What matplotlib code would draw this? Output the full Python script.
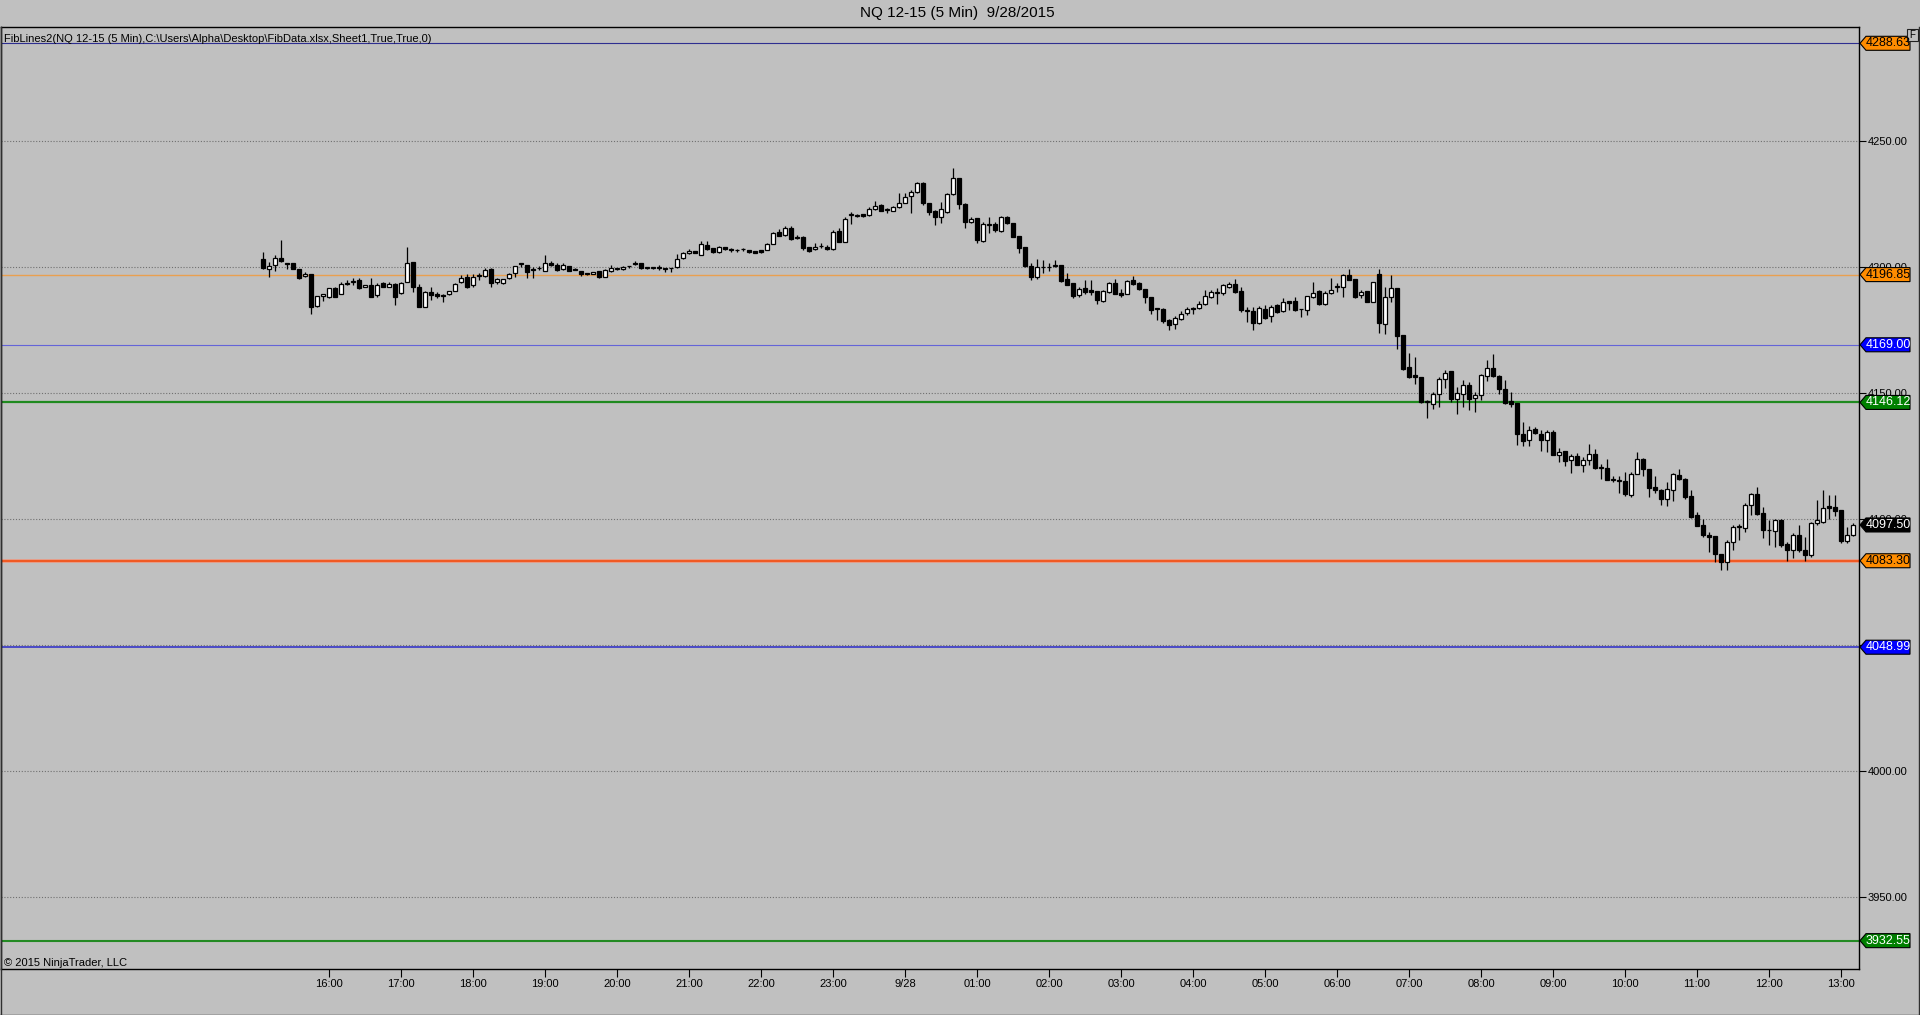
import numpy as np
import pandas as pd
import matplotlib
matplotlib.use("Agg")
import matplotlib.pyplot as plt
from matplotlib import transforms
from matplotlib.patches import Polygon, Rectangle
from matplotlib.lines import Line2D

plt.rcParams['font.family'] = ['Liberation Sans', 'DejaVu Sans']

# ---------------- data ----------------
title = "NQ 12-15 (5 Min)  9/28/2015"
indicator_label = r"FibLines2(NQ 12-15 (5 Min),C:\Users\Alpha\Desktop\FibData.xlsx,Sheet1,True,True,0)"
copyright_label = "\u00a9 2015 NinjaTrader, LLC"
start_time = "2015-09-27 15:05"   # first 5-minute bar

opens = [
 4202.9,4198.9,4200.7,4203.6,4201.6,4201.3,4198.9,4196.2,4197.1,4184.3,4188.4,4188.1,4191.4,4189.2,4193.6,4193.8,
 4194.7,4191.8,4192.7,4188.8,4193.4,4192.1,4193.0,4189.4,4194.0,4201.7,4192.1,4184.1,4189.8,4189.0,4188.8,4189.0,
 4190.5,4193.8,4196.0,4192.7,4196.4,4196.3,4199.0,4194.0,4193.6,4195.4,4197.6,4201.3,4200.7,4199.0,4199.3,4198.4,
 4201.3,4200.7,4198.9,4200.4,4198.9,4198.3,4197.2,4197.1,4198.3,4196.0,4198.3,4199.0,4199.0,4200.1,4201.3,4201.3,
 4199.6,4199.4,4200.0,4199.0,4199.3,4199.7,4203.3,4205.3,4206.3,4204.8,4208.6,4207.3,4206.0,4207.7,4206.6,4206.5,
 4206.9,4206.6,4206.3,4206.6,4206.6,4209.0,4213.9,4212.4,4215.5,4211.9,4211.9,4207.9,4206.9,4208.0,4207.9,4207.0,
 4214.3,4209.9,4220.5,4220.2,4220.8,4220.5,4222.8,4224.5,4222.5,4222.2,4223.5,4225.4,4228.0,4229.5,4233.1,4225.4,
 4222.1,4219.6,4221.8,4228.7,4235.0,4224.7,4217.6,4219.2,4210.2,4216.5,4216.9,4214.3,4219.6,4217.2,4212.2,4207.9,
 4200.3,4196.0,4199.7,4199.7,4200.3,4200.5,4195.0,4193.5,4188.6,4191.7,4190.9,4190.2,4186.4,4190.0,4193.7,4189.6,
 4189.3,4194.6,4193.5,4191.3,4188.0,4183.3,4183.3,4178.7,4177.4,4179.4,4181.6,4183.7,4183.6,4185.3,4188.0,4189.6,
 4189.6,4191.9,4193.0,4190.2,4182.4,4182.4,4177.6,4183.3,4180.3,4184.7,4182.4,4186.2,4186.2,4183.0,4182.9,4188.0,
 4190.2,4185.0,4189.7,4191.9,4191.9,4196.6,4195.2,4188.9,4190.2,4186.0,4197.2,4177.4,4188.0,4191.7,4172.8,4160.2,
 4157.1,4156.2,4146.3,4145.6,4149.3,4155.6,4158.5,4147.6,4149.6,4152.9,4148.0,4149.2,4156.5,4159.9,4156.5,4151.6,
 4146.6,4145.9,4133.5,4131.3,4135.4,4133.7,4131.3,4134.4,4125.1,4126.7,4123.4,4124.7,4121.4,4123.4,4125.5,4120.2,
 4120.1,4115.5,4115.0,4115.0,4109.5,4117.9,4123.5,4119.8,4112.6,4111.2,4107.7,4111.5,4117.2,4115.9,4108.9,4101.3,
 4097.4,4093.6,4093.0,4085.8,4082.8,4090.7,4096.7,4096.4,4105.3,4109.9,4102.4,4095.4,4095.1,4099.6,4090.1,4087.4,
 4093.6,4087.7,4085.7,4098.4,4098.7,4104.9,4104.6,4103.3,4091.2,4093.4]
highs = [
 4206.0,4202.0,4204.6,4210.6,4201.6,4201.3,4198.9,4198.0,4197.1,4188.4,4189.2,4191.6,4192.0,4194.0,4194.7,4195.4,
 4195.4,4192.7,4195.4,4193.4,4193.8,4194.0,4193.4,4194.0,4207.9,4201.7,4193.0,4190.5,4192.0,4190.0,4189.0,4190.3,
 4193.4,4196.7,4197.0,4197.0,4197.4,4199.3,4199.3,4195.6,4195.2,4197.6,4200.4,4201.5,4200.7,4200.0,4200.4,4204.6,
 4202.2,4201.3,4201.3,4200.4,4199.3,4198.3,4197.6,4198.0,4198.3,4199.0,4200.7,4199.3,4200.3,4200.4,4202.2,4201.3,
 4200.0,4199.8,4200.7,4199.3,4199.5,4204.9,4206.0,4206.9,4206.3,4210.2,4210.2,4207.6,4208.0,4207.7,4207.3,4207.2,
 4207.6,4206.6,4206.3,4206.6,4209.2,4213.9,4214.9,4216.1,4216.1,4212.6,4212.2,4207.9,4209.3,4209.5,4208.6,4214.6,
 4215.5,4219.6,4221.6,4221.0,4221.0,4223.8,4226.2,4224.9,4223.1,4224.1,4229.1,4229.4,4230.4,4233.7,4233.7,4225.4,
 4222.5,4225.8,4229.1,4239.0,4235.0,4225.4,4219.8,4219.2,4217.9,4219.6,4217.9,4220.2,4220.1,4217.2,4212.2,4207.9,
 4201.3,4202.9,4202.6,4201.3,4202.5,4200.5,4197.6,4193.5,4191.9,4194.8,4194.8,4190.2,4190.6,4194.1,4195.2,4191.3,
 4194.8,4196.2,4193.9,4191.3,4188.0,4183.3,4183.4,4179.4,4180.3,4182.4,4184.1,4184.0,4186.4,4190.9,4190.9,4191.5,
 4193.3,4193.9,4195.2,4191.9,4184.0,4184.0,4184.3,4184.7,4184.7,4185.3,4187.7,4186.2,4188.0,4183.3,4188.2,4193.9,
 4190.6,4190.3,4195.6,4193.5,4197.2,4199.2,4195.2,4190.6,4190.2,4193.9,4199.2,4192.0,4196.6,4191.7,4172.8,4165.9,
 4164.1,4156.2,4147.0,4150.3,4156.2,4158.9,4158.5,4152.2,4154.9,4154.2,4150.3,4157.3,4163.1,4165.2,4156.9,4154.9,
 4150.3,4145.9,4138.4,4136.6,4136.4,4135.0,4135.0,4135.0,4128.2,4126.7,4125.8,4126.0,4124.5,4129.8,4127.8,4121.8,
 4123.5,4116.8,4116.8,4118.5,4118.5,4126.5,4124.2,4119.8,4116.8,4111.9,4114.6,4118.1,4119.8,4116.0,4111.2,4102.6,
 4100.0,4094.7,4093.0,4086.1,4091.4,4097.4,4098.0,4106.2,4110.2,4112.6,4104.6,4099.3,4100.0,4100.0,4090.7,4094.3,
 4097.4,4092.7,4098.7,4107.5,4111.2,4109.3,4109.3,4103.3,4096.7,4098.3]
lows = [
 4199.0,4196.0,4198.4,4202.0,4199.0,4198.9,4195.2,4196.0,4181.2,4184.0,4186.4,4187.6,4188.0,4189.0,4192.7,4192.7,
 4191.0,4191.8,4187.8,4188.0,4192.0,4192.0,4184.8,4189.0,4193.8,4190.1,4184.0,4184.0,4186.8,4187.4,4186.0,4188.8,
 4190.3,4193.6,4191.6,4192.0,4194.7,4196.0,4191.8,4193.0,4193.0,4195.0,4196.0,4200.0,4195.6,4195.6,4198.7,4198.4,
 4200.4,4198.4,4198.7,4198.4,4198.7,4196.3,4196.5,4197.0,4195.4,4196.0,4198.0,4198.5,4198.8,4199.3,4200.7,4199.0,
 4199.0,4199.0,4198.7,4197.8,4198.0,4199.6,4203.0,4205.0,4205.3,4204.6,4206.6,4205.6,4205.6,4206.6,4206.0,4206.0,
 4206.3,4205.6,4205.3,4205.3,4206.6,4209.0,4212.0,4212.2,4210.6,4211.0,4206.6,4206.0,4206.6,4207.6,4206.6,4206.6,
 4209.9,4209.9,4216.9,4219.6,4219.8,4220.2,4222.5,4221.9,4221.4,4221.9,4223.3,4225.1,4221.4,4229.1,4224.5,4220.5,
 4216.5,4217.2,4221.4,4228.4,4222.8,4215.2,4217.2,4209.5,4209.9,4213.2,4213.9,4213.9,4216.9,4211.9,4205.3,4200.0,
 4194.7,4195.1,4197.4,4198.4,4199.9,4193.9,4192.6,4187.7,4188.0,4189.0,4188.6,4185.3,4186.0,4189.6,4189.0,4188.0,
 4189.0,4192.6,4190.9,4185.6,4181.1,4179.0,4177.6,4175.0,4175.4,4178.7,4181.0,4181.4,4183.3,4184.9,4187.7,4185.3,
 4188.6,4191.7,4189.7,4182.0,4178.0,4174.7,4177.4,4179.4,4178.0,4181.6,4182.0,4182.7,4182.4,4180.0,4181.0,4187.7,
 4184.7,4184.7,4189.3,4190.0,4188.0,4194.6,4187.6,4187.7,4186.0,4186.0,4173.7,4173.1,4186.0,4167.5,4158.9,4156.0,
 4153.3,4145.9,4140.0,4143.6,4144.4,4152.0,4146.3,4141.4,4144.3,4143.0,4142.3,4147.0,4154.6,4156.2,4149.6,4145.6,
 4144.3,4129.1,4128.8,4128.7,4133.7,4126.9,4126.5,4125.1,4122.5,4120.8,4118.1,4121.2,4118.5,4121.2,4119.8,4115.9,
 4115.2,4114.6,4110.0,4109.0,4108.6,4117.6,4116.8,4108.6,4110.2,4105.3,4104.9,4107.0,4115.5,4107.9,4100.4,4097.0,
 4092.7,4086.8,4082.8,4079.5,4079.5,4087.7,4091.4,4094.7,4101.3,4101.3,4092.5,4089.4,4088.8,4088.8,4083.2,4084.5,
 4086.8,4083.2,4084.8,4097.4,4098.3,4100.0,4100.9,4090.3,4090.3,4093.0]
closes = [
 4199.3,4200.4,4203.6,4202.2,4201.2,4198.9,4195.6,4197.1,4184.1,4188.4,4189.2,4191.4,4188.1,4193.0,4193.2,4194.5,
 4191.7,4192.7,4188.1,4192.7,4192.1,4193.0,4188.1,4193.4,4201.3,4192.1,4184.1,4189.8,4188.8,4188.5,4188.4,4190.3,
 4193.0,4195.4,4192.1,4196.0,4196.4,4198.7,4193.6,4195.0,4195.0,4197.0,4200.4,4200.9,4198.0,4198.7,4199.3,4201.3,
 4200.7,4198.7,4200.7,4198.4,4198.7,4197.0,4197.0,4198.0,4196.0,4198.7,4199.3,4199.0,4200.0,4200.1,4200.9,4199.3,
 4199.6,4199.4,4199.3,4199.0,4199.3,4203.0,4205.3,4206.3,4205.3,4209.0,4207.0,4206.0,4207.7,4207.2,4206.6,4206.6,
 4206.9,4205.7,4205.3,4205.8,4209.0,4213.5,4212.2,4215.2,4211.0,4211.5,4207.3,4206.3,4207.9,4208.0,4207.0,4213.9,
 4209.9,4218.9,4220.5,4220.2,4220.1,4222.8,4224.1,4222.1,4222.5,4223.5,4225.4,4227.5,4229.5,4233.1,4225.4,4221.8,
 4219.6,4222.8,4228.7,4235.0,4224.7,4217.9,4218.8,4210.6,4216.9,4216.5,4214.5,4219.6,4217.2,4211.9,4207.3,4200.3,
 4195.8,4199.7,4199.7,4199.7,4200.5,4194.3,4192.9,4188.2,4191.3,4190.0,4190.0,4186.6,4190.3,4193.7,4189.3,4188.6,
 4194.3,4193.0,4191.3,4188.0,4182.7,4183.1,4178.4,4176.7,4179.8,4181.4,4183.3,4183.2,4185.3,4188.2,4190.0,4189.6,
 4192.9,4193.2,4190.0,4182.7,4182.4,4177.6,4183.7,4179.8,4184.0,4182.0,4186.0,4185.6,4182.7,4183.0,4188.2,4189.7,
 4185.0,4189.6,4190.9,4191.9,4196.6,4194.8,4188.0,4190.0,4186.0,4193.9,4177.6,4188.0,4191.7,4172.4,4159.5,4156.2,
 4156.2,4146.3,4146.3,4149.3,4155.6,4158.0,4147.6,4149.9,4152.9,4147.4,4149.2,4156.9,4159.9,4156.5,4151.6,4146.0,
 4145.6,4133.7,4130.8,4135.0,4134.0,4131.3,4134.4,4125.1,4126.5,4122.9,4125.0,4121.2,4123.4,4125.5,4120.2,4120.2,
 4115.5,4115.5,4115.0,4109.7,4117.6,4123.8,4119.8,4112.2,4111.2,4107.7,4111.9,4117.6,4115.9,4108.6,4100.7,4097.1,
 4093.4,4092.7,4086.1,4082.8,4090.7,4096.7,4096.7,4105.3,4109.9,4101.7,4095.4,4095.4,4099.6,4089.7,4087.4,4093.6,
 4087.4,4085.7,4098.4,4099.3,4104.4,4104.2,4103.0,4091.0,4093.4,4097.5]

# horizontal fib levels and their tag colours
fib_levels = [4288.63, 4196.85, 4169.00, 4146.12, 4083.30, 4048.99, 3932.55]
fib_line_colors = ['#2e2e90', '#e9a050', '#6464d8', '#1f8a1f', '#f05a24', '#2a2ac8', '#238a23']
fib_line_widths = [0.8, 1.0, 0.8, 1.6, 1.5, 1.1, 1.5]
fib_tag_colors = ['#ff8c00', '#ff8c00', '#0000ff', '#008000', '#ff8c00', '#0000ff', '#008000']
fib_tag_text = ['black', 'black', 'white', 'white', 'black', 'white', 'white']
last_price = 4097.50

y_ticks = [3950, 4000, 4050, 4100, 4150, 4200, 4250]

# ---------------- figure ----------------
W, H = 1920, 1015
BG = '#c0c0c0'
fig = plt.figure(figsize=(W / 100, H / 100), dpi=100, facecolor=BG)

ax_left, ax_right, ax_top, ax_bot = 1, 1859, 27, 969
ax = fig.add_axes([ax_left / W, 1 - ax_bot / H, (ax_right - ax_left) / W, (ax_bot - ax_top) / H])
ax.set_facecolor(BG)

o = np.array(opens); h = np.array(highs); l = np.array(lows); c = np.array(closes)
n = len(o)
x = np.arange(n)
times = pd.date_range(start_time, periods=n, freq='5min')

ymin, ymax = 3921.3, 4295.1
ax.set_ylim(ymin, ymax)
ax.set_xlim(-43.7, 266.0)

# grid
for v in y_ticks:
    ax.axhline(v, color='#707070', lw=0.8, ls=(0, (1, 1.6)), zorder=1)

# fib lines
for p, col, lw in zip(fib_levels, fib_line_colors, fib_line_widths):
    if p == 4083.30:
        ax.axhline(p, color='#e8a08c', lw=2.8, zorder=2)
    ax.axhline(p, color=col, lw=lw, zorder=2)

# candles
up = c >= o
ax.vlines(x, l, h, color='black', lw=0.9, zorder=3)
body_bottom = np.minimum(o, c)
body_h = np.maximum(np.abs(c - o), 0.3)
ax.bar(x, body_h, bottom=body_bottom, width=0.72,
       color=np.where(up, 'white', 'black'), edgecolor='black', linewidth=0.9, zorder=4)

# axes styling
for s in ax.spines.values():
    s.set_color('black'); s.set_linewidth(1.0)

ax.yaxis.tick_right()
ax.set_yticks(y_ticks)
ax.set_yticklabels([f"{v:.2f}" for v in y_ticks])
ax.tick_params(axis='y', which='both', direction='out', length=5, width=0.8, pad=1.5,
               labelsize=8, right=True, left=False, labelright=True, labelleft=False, colors='black')

hour_idx = [i for i, t in enumerate(times) if t.minute == 0]
hour_lab = [(f"{t.month}/{t.day}" if t.hour == 0 else t.strftime('%H:%M')) for t in times if t.minute == 0]
ax.set_xticks(hour_idx)
ax.set_xticklabels(hour_lab)
ax.tick_params(axis='x', direction='out', length=6, width=0.8, pad=1.5, labelsize=8, colors='black')

# price tags on the right axis
trans = transforms.blended_transform_factory(fig.transFigure, ax.transData)
pxpp = (ax_bot - ax_top) / (ymax - ymin)
hh = 7.0 / pxpp
x0, x1, x2 = 1860 / W, 1866 / W, 1910 / W


def tag(price, face, tcol):
    poly = Polygon([(x0, price), (x1, price + hh), (x2, price + hh), (x2, price - hh), (x1, price - hh)],
                   closed=True, facecolor=face, edgecolor='black', lw=0.8, transform=trans,
                   clip_on=False, zorder=20)
    fig.add_artist(poly)
    fig.text(1888.5 / W, price, f"{price:.2f}", transform=trans, ha='center', va='center',
             fontsize=9, color=tcol, zorder=21)


for p, fc, tc in zip(fib_levels, fib_tag_colors, fib_tag_text):
    tag(p, fc, tc)
tag(last_price, 'black', 'white')

# F box
fig.add_artist(Rectangle((1907 / W, 1 - 41 / H), 11 / W, 12 / H, transform=fig.transFigure,
                         facecolor=BG, edgecolor='#202020', lw=0.8, zorder=20))
fig.text(1912.5 / W, 1 - 35 / H, 'F', ha='center', va='center', fontsize=7, zorder=21)

# texts
fig.text(957 / W, 1 - 13.5 / H, title, ha='center', va='center', fontsize=11)
fig.text(4 / W, 1 - 42 / H, indicator_label, ha='left', va='baseline', fontsize=8, zorder=21)
fig.text(4 / W, 1 - 963 / H, copyright_label, ha='left', va='center', fontsize=8)

# outer frame
fig.add_artist(Line2D([1918.5 / W, 1918.5 / W], [0, 1 - 27 / H], color='#303030', lw=1.0))
fig.add_artist(Line2D([0, 1918.5 / W], [0.5 / H, 0.5 / H], color='#303030', lw=1.0))
fig.add_artist(Line2D([0.5 / W, 0.5 / W], [0, 1 - 27 / H], color='#303030', lw=1.0))

fig.savefig('out.png', dpi=100, facecolor=BG)
